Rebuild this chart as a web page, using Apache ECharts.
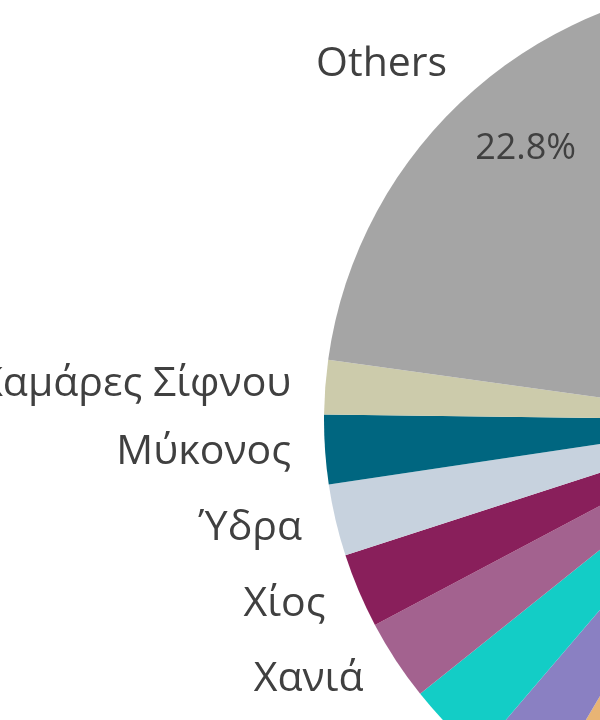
<!DOCTYPE html>
<html>
<head>
<meta charset="utf-8">
<script src="https://cdn.jsdelivr.net/npm/echarts@6/dist/echarts.min.js"></script>
<style>
  html, body { margin: 0; padding: 0; background: #ffffff; }
  #chart { width: 600px; height: 720px; }
</style>
</head>
<body>
<div id="chart"></div>
<script>
// Slice names, in clockwise order starting at 12 o'clock (only the last ones are visible in the crop)
const categories = [
  'Πειραιάς', 'Ραφήνα', 'Ηράκλειο', 'Σαντορίνη', 'Πάρος', 'Νάξος', 'Ρόδος', 'Κέρκυρα', 'Τήνος',
  'Κως', 'Σύρος', 'Χανιά', 'Χίος', 'Ύδρα', 'Μύκονος', 'Καμάρες Σίφνου', 'Others'
];
// Share of each slice (percent)
const shares = [
  15.6, 8.6, 7.1, 6.0, 5.2, 4.6, 4.1, 3.9, 3.35,
  2.8, 3.0, 3.0, 2.75, 2.65, 2.55, 2.0, 22.8
];
const sliceColors = [
  '#3b7dbf', '#e66c37', '#6b007b', '#e044a7', '#2f8f6f', '#d9b300', '#d64550', '#197278', '#e8b474',
  '#8a80c2', '#13cdc6', '#a3628f', '#891f5b', '#c7d2de', '#006680', '#cccbab', '#a5a5a5'
];

const data = categories.map((name, i) => ({
  name: name,
  value: shares[i],
  itemStyle: { color: sliceColors[i] }
}));
const ghostData = categories.map((name, i) => ({ name: name, value: shares[i] }));

const FONT = '"Open Sans", "Noto Sans", sans-serif';
// Layout box extends well beyond the canvas so labels may run off the left edge like the cropped reference
const box = { left: -1000, top: 0, width: 3000, height: 2000 };
const CENTER = [1762, 420];
const R = 438;

const chart = echarts.init(document.getElementById('chart'), null, { renderer: 'canvas' });
chart.setOption({
  animation: false,
  backgroundColor: '#ffffff',
  series: [
    Object.assign({
      type: 'pie',
      center: CENTER,
      radius: R,
      startAngle: 90,
      clockwise: true,
      avoidLabelOverlap: true,
      data: data,
      itemStyle: { borderWidth: 0, borderColor: 'rgba(0,0,0,0)', borderRadius: 0 },
      label: {
        show: true,
        position: 'outside',
        formatter: '{b}',
        fontFamily: FONT,
        fontSize: 41,
        color: '#404040',
        distanceToLabelLine: 5,
        overflow: 'none',
        textBorderWidth: 0
      },
      labelLine: { show: false, length: 34, length2: 0 },
      emphasis: { disabled: true },
      silent: true
    }, box),
    Object.assign({
      type: 'pie',
      center: CENTER,
      radius: [276, R],
      startAngle: 90,
      clockwise: true,
      data: ghostData,
      itemStyle: { color: 'rgba(0,0,0,0)', borderWidth: 0 },
      label: {
        show: true,
        position: 'inside',
        formatter: function (p) { return p.percent >= 4 ? p.percent.toFixed(1) + '%' : ''; },
        fontFamily: FONT,
        fontSize: 36,
        color: '#404040',
        overflow: 'none',
        textBorderWidth: 0
      },
      labelLine: { show: false },
      emphasis: { disabled: true },
      silent: true
    }, box)
  ]
});
</script>
</body>
</html>
